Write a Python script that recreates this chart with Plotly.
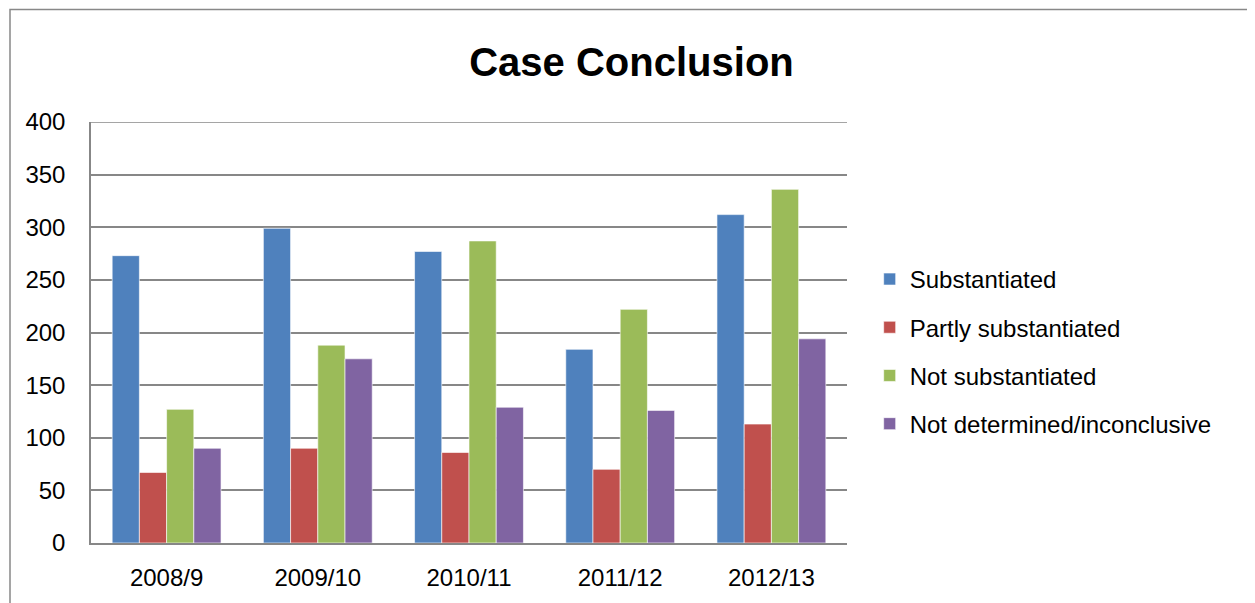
import plotly.graph_objects as go

categories = ["2008/9", "2009/10", "2010/11", "2011/12", "2012/13"]
substantiated = [273, 299, 277, 184, 312]
partly_substantiated = [67, 90, 86, 70, 113]
not_substantiated = [127, 188, 287, 222, 336]
not_determined = [90, 175, 129, 126, 194]
series_names = ["Substantiated", "Partly substantiated", "Not substantiated",
                "Not determined/inconclusive"]
y_ticks = [0, 50, 100, 150, 200, 250, 300, 350, 400]

colors = ["#4F81BD", "#C0504D", "#9BBB59", "#8064A2"]
FONT = "Liberation Sans"
GRID = "#878787"

fig = go.Figure()
for i, (name, vals) in enumerate(zip(series_names,
                                     [substantiated, partly_substantiated,
                                      not_substantiated, not_determined])):
    fig.add_trace(go.Bar(
        x=categories, y=vals, name=name, legendgroup=f"g{i}",
        marker=dict(color=colors[i], line=dict(color="rgba(255,255,255,0.6)", width=1)),
    ))

# page body has an 8px margin, so the figure is offset by 8px
fig.update_layout(
    width=1247, height=595,
    margin=dict(l=83, r=408, t=114, b=58),
    paper_bgcolor="white", plot_bgcolor="white",
    barmode="group", bargap=0.28, bargroupgap=0,
    font=dict(family=FONT, size=24, color="#000000"),
    title=dict(text="<b>Case Conclusion</b>", x=0.5, xref="container", xanchor="center",
               y=0.909, yanchor="middle", yref="container",
               font=dict(family=FONT, size=40, color="#000000")),
    showlegend=True,
    legend=dict(x=1.030, xanchor="left", y=0.455, yanchor="middle",
                traceorder="grouped", tracegroupgap=14,
                font=dict(family=FONT, size=24, color="#000000"),
                bgcolor="rgba(0,0,0,0)", itemclick=False),
    xaxis=dict(showgrid=False, showline=True, linecolor=GRID, linewidth=1.5,
               ticks="", ticklabelstandoff=12, tickfont=dict(family=FONT, size=24)),
    yaxis=dict(range=[0, 400], tickvals=y_ticks, showgrid=True, gridcolor=GRID,
               gridwidth=1.5, showline=True, linecolor=GRID, linewidth=1.5,
               ticks="", ticklabelstandoff=19, zeroline=False,
               tickfont=dict(family=FONT, size=24)),
)

# top gridline (plotly drops the gridline at the range edge)
fig.add_shape(type="line", xref="paper", yref="y", x0=0, x1=1,
              y0=y_ticks[-1], y1=y_ticks[-1], line=dict(color=GRID, width=1.5))

# outer chart border
fig.add_shape(type="rect", xref="paper", yref="paper",
              x0=(10 - 91) / 756, x1=(1248 - 91) / 756,
              y0=-0.3, y1=(545 - 9) / 423,
              line=dict(color="#888888", width=1.5), fillcolor="rgba(0,0,0,0)",
              layer="below")

fig.write_html("out.html")
